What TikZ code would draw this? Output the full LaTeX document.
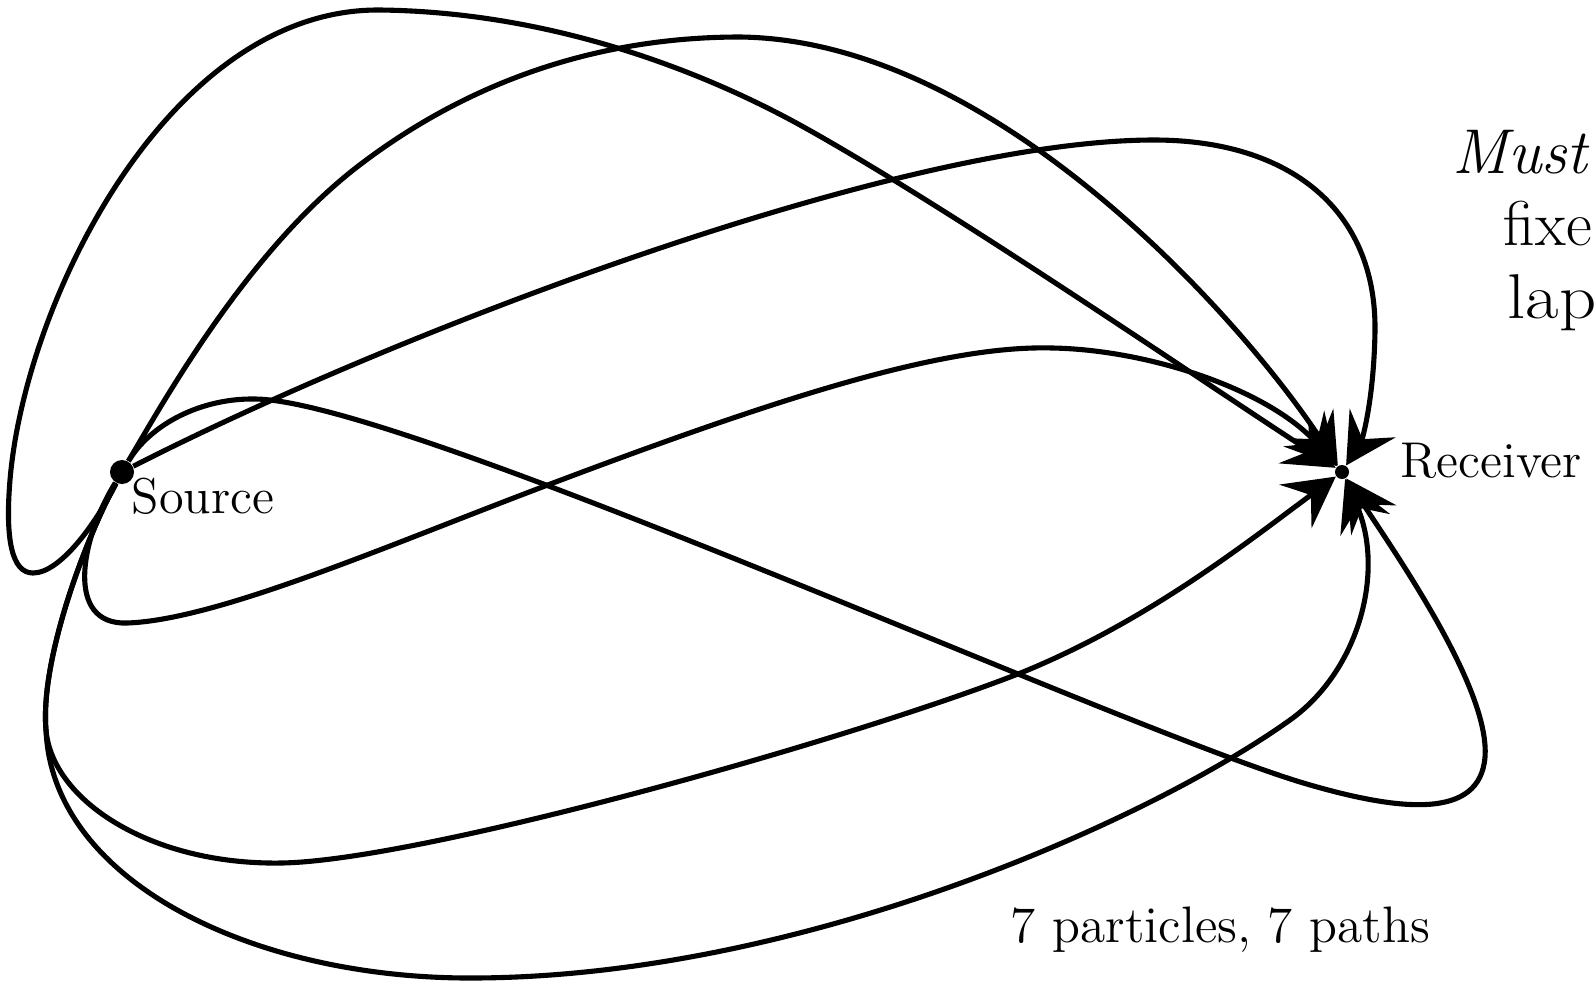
\documentclass[tikz,border=0pt]{standalone}
\usetikzlibrary{arrows.meta}
\begin{document}
\begin{tikzpicture}[x=0.01cm,y=-0.01cm,
  ppath/.style={line width=1.45pt,line join=round,-{Stealth[length=5mm,width=5.4mm,inset=1.9mm]}},
  dot/.style={circle,fill=black,inner sep=0pt,minimum size=0.24cm},
  lbl/.style={inner sep=0pt,anchor=base west,font=\fontsize{14.3}{17}\selectfont},
  bigl/.style={inner sep=0pt,anchor=base west,font=\fontsize{18}{21.6}\selectfont}]
\useasboundingbox (0,0) rectangle (1594,984);
\fill[white] (0,0) rectangle (1594,984);
\node[dot] (src) at (122,472) {};
\node[dot,minimum size=0.14cm] (rcv) at (1342,472) {};
% P1 outer top arc with left loop
\draw[ppath] (src) .. controls (95,525) and (60,573) .. (33,573)
  .. controls (12,573) and (5,540) .. (10,480)
  .. controls (25,300) and (170,8) .. (380,10)
  .. controls (550,12) and (700,70) .. (800,125)
  .. controls (950,208) and (1200,380) .. (rcv);
% P2 second top arc
\draw[ppath] (src) .. controls (170,390) and (250,250) .. (357,167)
  .. controls (470,80) and (600,37) .. (740,37)
  .. controls (1000,40) and (1250,330) .. (rcv);
% P3 long arc over the receiver
\draw[ppath] (src) .. controls (400,330) and (900,140) .. (1154,140)
  .. controls (1290,140) and (1376,210) .. (1375,330)
  .. controls (1374,400) and (1362,440) .. (rcv);
% P4 small loop, then over the middle
\draw[ppath] (src) .. controls (80,540) and (65,625) .. (127,623)
  .. controls (220,620) and (400,540) .. (561,480)
  .. controls (800,390) and (950,345) .. (1053,348)
  .. controls (1150,350) and (1270,390) .. (rcv);
% P5 inner bottom arc
\draw[ppath] (src) .. controls (85,540) and (40,660) .. (46,730)
  .. controls (52,800) and (150,865) .. (281,863)
  .. controls (420,861) and (850,740) .. (1023,672)
  .. controls (1150,620) and (1250,540) .. (rcv);
% P6 outer bottom arc
\draw[ppath] (src) .. controls (85,540) and (40,660) .. (46,730)
  .. controls (52,880) and (250,978) .. (470,978)
  .. controls (800,978) and (1150,820) .. (1290,720)
  .. controls (1360,670) and (1385,570) .. (rcv);
% P7 lower arc with right loop
\draw[ppath] (src) .. controls (150,425) and (200,398) .. (255,399)
  .. controls (400,400) and (1100,720) .. (1300,782)
  .. controls (1400,812) and (1480,820) .. (1485,757)
  .. controls (1490,690) and (1400,560) .. (rcv);
\node[lbl] (srclbl) at (131,513) {Source};
\node[lbl] (rcvlbl) at (1400,477) {Receiver};
\node[lbl,font=\fontsize{14.6}{17}\selectfont] (count) at (1010,942) {7 particles, 7 paths};
\node[bigl] (t1) at (1452,173) {\itshape Must};
\node[bigl] (t2) at (1503,245) {fixe};
\node[bigl] (t3) at (1507,318) {\scalebox{1.15}[1]{lap}};
\end{tikzpicture}
\end{document}
